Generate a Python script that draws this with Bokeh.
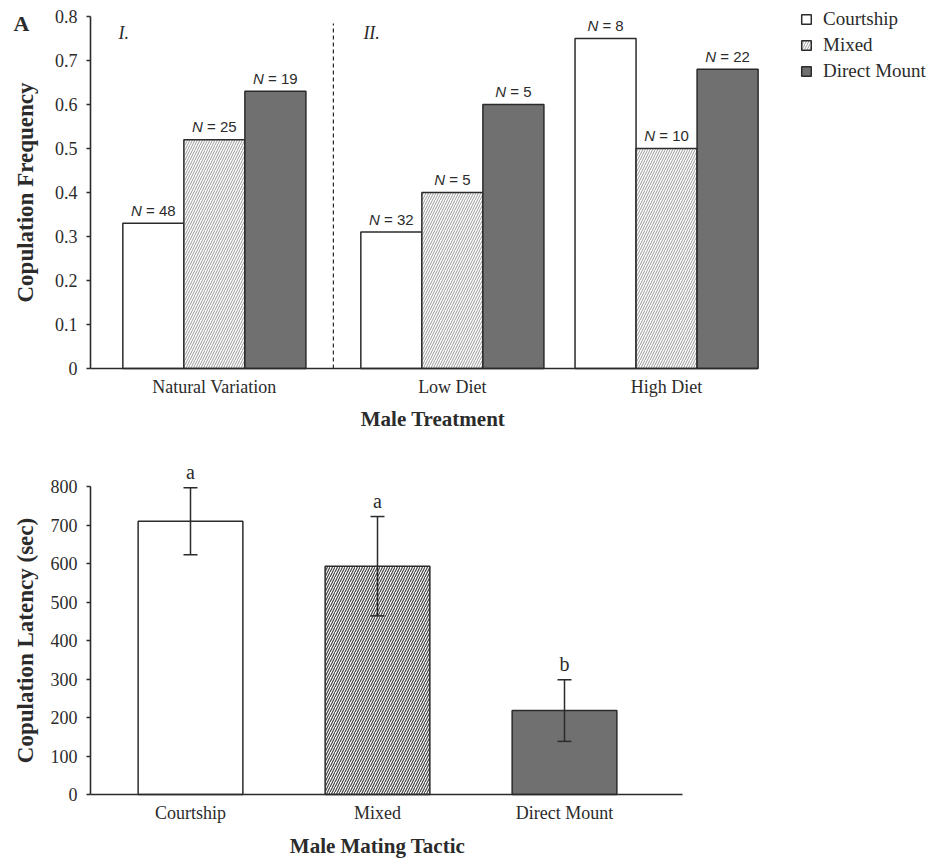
from bokeh.plotting import figure
from bokeh.models import (ColumnDataSource, Range1d, FixedTicker, Legend, LegendItem,
                          Whisker, Label, TeeHead)
from bokeh.layouts import column
from bokeh.transform import dodge
from bokeh.core.properties import value
from bokeh.embed import file_html
from bokeh.resources import INLINE

# ---------------- data ----------------
treatments = ["Natural Variation", "Low Diet", "High Diet"]
tactics = ["Courtship", "Mixed", "Direct Mount"]
courtship_freq = [0.33, 0.31, 0.75]
mixed_freq = [0.52, 0.40, 0.50]
direct_freq = [0.63, 0.60, 0.68]
courtship_n = [48, 32, 8]
mixed_n = [25, 5, 10]
direct_n = [19, 5, 22]
freq_ticks = [0, 0.1, 0.2, 0.3, 0.4, 0.5, 0.6, 0.7, 0.8]
freq_tick_labels = ["0", "0.1", "0.2", "0.3", "0.4", "0.5", "0.6", "0.7", "0.8"]

latency_mean = [710, 593, 218]
latency_se = [87, 129, 80]
latency_letters = ["a", "a", "b"]
latency_ticks = [0, 100, 200, 300, 400, 500, 600, 700, 800]

# ---------------- style / layout ----------------
SERIF = "Liberation Serif"
SANS = "Liberation Sans"
INK = "#2b2b2b"
GREY = "#707070"
W = 940
H1, H2 = 437, 421

# panel A axes box (pixels inside figure 1); the frame fills the whole figure
A_L, A_R, A_T, A_B = 90, 757, 16, 368
group_x = [2.03, 5.93, 9.44]      # group centres, in bar-width units
tactic_offsets = [-1.0, 0.0, 1.0]
x_end = 10.93
ppx1 = (A_R - A_L) / x_end
ppy1 = (A_B - A_T) / freq_ticks[-1]

# panel B axes box (pixels inside figure 2)
lat_x = [1, 2, 3]
B_L, B_R, B_B = 90, 682, 357
B_X1 = 190                          # pixel of the first bar centre
ppx2 = 187.0
ppy2 = 0.385


def base_style(p):
    p.outline_line_color = None
    p.xgrid.visible = False
    p.ygrid.visible = False
    for ax in (p.xaxis[0], p.yaxis[0]):
        ax.fixed_location = 0
        ax.axis_line_color = INK
        ax.axis_line_width = 1.6
        ax.minor_tick_line_color = None
        ax.major_label_text_font = SERIF
        ax.major_label_text_font_size = "18px"
        ax.major_label_text_color = INK
    p.xaxis.major_tick_line_color = None
    p.xaxis.major_tick_out = 0
    p.xaxis.major_tick_in = 0
    p.xaxis.major_label_standoff = 8
    p.yaxis.major_tick_out = 4
    p.yaxis.major_tick_in = 0
    p.yaxis.major_tick_line_color = INK
    p.yaxis.major_tick_line_width = 1.4
    p.yaxis.major_label_standoff = 9


def title_label(text, x, y, x_offset=0, y_offset=0, angle=0, size="21px"):
    return Label(x=x, y=y, x_offset=x_offset, y_offset=y_offset, text=text,
                 angle=angle, angle_units="deg", text_align="center", text_baseline="middle",
                 text_font=SERIF, text_font_style="bold", text_font_size=size, text_color=INK)


# ---------------- panel A ----------------
p1 = figure(width=W, height=H1, title=None,
            x_range=Range1d(-A_L / ppx1, (W - A_L) / ppx1),
            y_range=Range1d(-(H1 - A_B) / ppy1, A_B / ppy1),
            output_backend="svg", toolbar_location=None,
            min_border_left=0, min_border_right=0, min_border_top=0, min_border_bottom=0)
base_style(p1)
p1.yaxis.ticker = FixedTicker(ticks=freq_ticks)
p1.yaxis.major_label_overrides = dict(zip(freq_ticks, freq_tick_labels))
p1.yaxis.bounds = (0, freq_ticks[-1])
p1.xaxis.ticker = FixedTicker(ticks=group_x)
p1.xaxis.major_label_overrides = dict(zip(group_x, treatments))
p1.xaxis.bounds = (0, x_end)

src1 = ColumnDataSource(dict(gx=group_x, courtship=courtship_freq,
                             mixed=mixed_freq, direct=direct_freq))
r_c = p1.vbar(x=dodge("gx", tactic_offsets[0]), top="courtship", width=1.0, source=src1,
              fill_color="white", line_color=INK, line_width=1.5)
r_m = p1.vbar(x=dodge("gx", tactic_offsets[1]), top="mixed", width=1.0, source=src1,
              fill_color="white", line_color=INK, line_width=1.5,
              hatch_pattern="/", hatch_color="#9a9a9a", hatch_scale=5, hatch_weight=1)
r_d = p1.vbar(x=dodge("gx", tactic_offsets[2]), top="direct", width=1.0, source=src1,
              fill_color=GREY, line_color=INK, line_width=1.5)

# N = .. labels (italic N + upright rest), centred over each bar
FS = 15
lx, ly, ln, lnoff, lrest, lroff = [], [], [], [], [], []
for off, vals, ns in zip(tactic_offsets, [courtship_freq, mixed_freq, direct_freq],
                         [courtship_n, mixed_n, direct_n]):
    for gx, v, n in zip(group_x, vals, ns):
        w = FS * (0.722 + 0.278 + 0.584 + 0.278 + 0.556 * len(str(n)))
        lx.append(gx + off)
        ly.append(v)
        ln.append("N")
        lnoff.append(-w / 2)
        lrest.append("= %d" % n)
        lroff.append(-w / 2 + FS * (0.722 + 0.278))
lsrc = ColumnDataSource(dict(x=lx, y=ly, n=ln, noff=lnoff, rest=lrest, roff=lroff))
p1.text(x="x", y="y", text="n", x_offset="noff", y_offset=-13, source=lsrc,
        text_font=value(SANS), text_font_style="italic", text_font_size="%dpx" % FS,
        text_align="left", text_baseline="alphabetic", text_color=INK)
p1.text(x="x", y="y", text="rest", x_offset="roff", y_offset=-13, source=lsrc,
        text_font=value(SANS), text_font_size="%dpx" % FS,
        text_align="left", text_baseline="alphabetic", text_color=INK)

sep_x = (group_x[0] + 1.5 + group_x[1] - 1.5) / 2
p1.segment(x0=[sep_x], y0=[0], x1=[sep_x], y1=[freq_ticks[-1] * 0.98],
           line_color=INK, line_width=1.2, line_dash="4 3")

p1.add_layout(Label(x=0, y=freq_ticks[-1], x_offset=28, y_offset=-16, text="I.",
                    text_font=SERIF, text_font_style="italic", text_font_size="18px",
                    text_baseline="alphabetic", text_color=INK))
p1.add_layout(Label(x=sep_x, y=freq_ticks[-1], x_offset=30, y_offset=-16, text="II.",
                    text_font=SERIF, text_font_style="italic", text_font_size="18px",
                    text_baseline="alphabetic", text_color=INK))
p1.add_layout(Label(x=0, y=freq_ticks[-1], x_offset=-77, y_offset=-7, text="A",
                    text_font=SERIF, text_font_style="bold", text_font_size="22px",
                    text_baseline="alphabetic", text_color=INK))
p1.add_layout(title_label("Copulation Frequency", 0, freq_ticks[-1] / 2,
                          x_offset=25 - A_L, angle=90, size="23px"))
p1.add_layout(title_label("Male Treatment", x_end / 2, 0, x_offset=9, y_offset=-(418 - A_B)))

legend = Legend(items=[LegendItem(label=t, renderers=[r]) for t, r in zip(tactics, [r_c, r_m, r_d])],
                location=(800, H1 - 84), glyph_width=12, glyph_height=12,
                label_standoff=11, spacing=0, padding=0, margin=0, label_height=26,
                border_line_color=None, background_fill_alpha=0,
                label_text_font=SERIF, label_text_font_size="19px", label_text_color=INK)
p1.add_layout(legend)

# ---------------- panel B ----------------
x0_2 = lat_x[0] - B_X1 / ppx2
p2 = figure(width=W, height=H2, title=None,
            x_range=Range1d(x0_2, x0_2 + W / ppx2),
            y_range=Range1d(-(H2 - B_B) / ppy2, B_B / ppy2),
            output_backend="svg", toolbar_location=None,
            min_border_left=0, min_border_right=0, min_border_top=0, min_border_bottom=0)
base_style(p2)
p2.yaxis.ticker = FixedTicker(ticks=latency_ticks)
p2.yaxis.bounds = (0, latency_ticks[-1])
p2.yaxis.fixed_location = x0_2 + B_L / ppx2
p2.xaxis.ticker = FixedTicker(ticks=lat_x)
p2.xaxis.major_label_overrides = dict(zip(lat_x, tactics))
p2.xaxis.bounds = (x0_2 + B_L / ppx2, x0_2 + B_R / ppx2)

src2 = ColumnDataSource(dict(
    x=lat_x, mean=latency_mean,
    upper=[m + s for m, s in zip(latency_mean, latency_se)],
    lower=[m - s for m, s in zip(latency_mean, latency_se)],
    letter=latency_letters,
    fill=["white", "white", GREY],
    hatch=[" ", "/", " "],
))
p2.vbar(x="x", top="mean", width=0.56, source=src2, fill_color="fill",
        line_color=INK, line_width=1.5, hatch_pattern="hatch", hatch_color="#444444",
        hatch_scale=5, hatch_weight=1.2)
p2.add_layout(Whisker(base="x", upper="upper", lower="lower", source=src2, level="overlay",
                      line_color=INK, line_width=1.5,
                      upper_head=TeeHead(size=14, line_color=INK, line_width=1.5),
                      lower_head=TeeHead(size=14, line_color=INK, line_width=1.5)))
p2.text(x="x", y="upper", text="letter", y_offset=-16, source=src2,
        text_font=value(SERIF), text_font_size="20px", text_align="center",
        text_baseline="alphabetic", text_color=INK)
p2.add_layout(title_label("Copulation Latency (sec)", x0_2 + B_L / ppx2, latency_ticks[-1] / 2,
                          x_offset=25 - B_L, angle=90, size="23px"))
p2.add_layout(title_label("Male Mating Tactic", lat_x[1], 0, y_offset=-(845 - 437 - B_B)))

layout = column(p1, p2)
open("out.html", "w").write(file_html(layout, INLINE))
